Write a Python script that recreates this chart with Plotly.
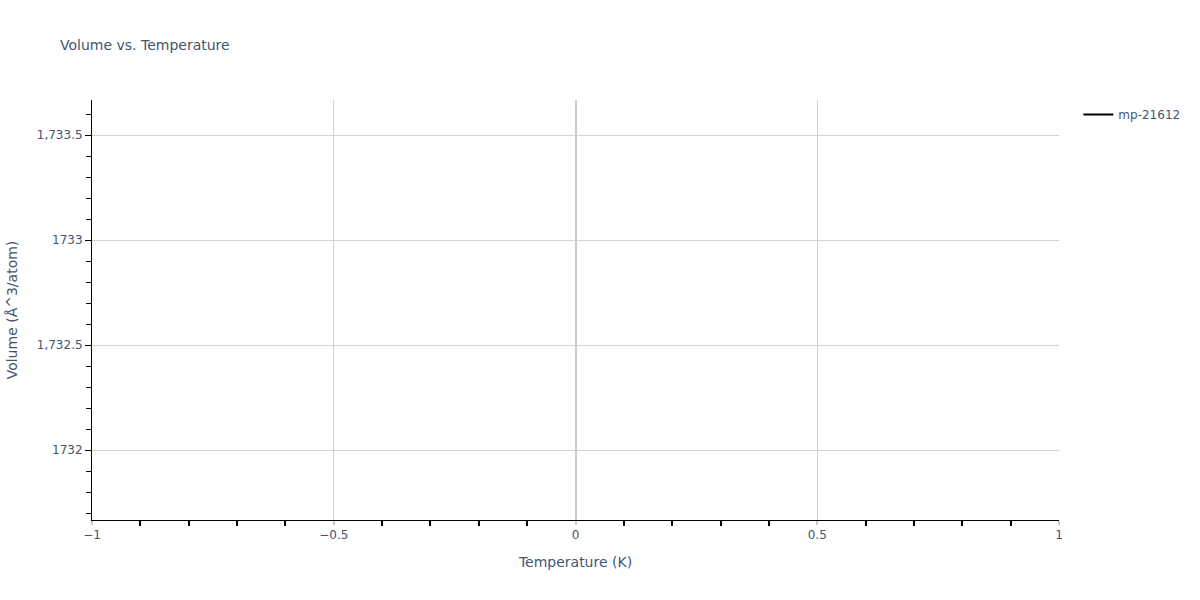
import plotly.graph_objects as go

# single sample: temperature (K) and volume (Å^3/atom)
temperature = [0]
volume = [1732.667]
material = "mp-21612"

fig = go.Figure()
fig.add_trace(go.Scatter(x=temperature, y=volume, name=material, mode='lines',
                         line=dict(color='black', width=2), showlegend=True))

fig.update_layout(
    title=dict(text="Volume vs. Temperature", font=dict(size=14), y=0.925, yanchor='middle'),
    font=dict(family="Verdana, DejaVu Sans, sans-serif", color='#44546f'),
    width=1200, height=600,
    margin=dict(r=141),
    plot_bgcolor='white', paper_bgcolor='white',
    showlegend=True,
    xaxis=dict(title="Temperature (K)", showline=True, linecolor='black', linewidth=1,
               showgrid=True, gridcolor='lightgrey', zeroline=True, zerolinecolor='#cccccc',
               zerolinewidth=2, ticks='outside', tickcolor='#cccccc', tickwidth=2, ticklen=4,
               minor=dict(ticks='outside', ticklen=5, tickcolor='black', showgrid=False)),
    yaxis=dict(title="Volume (Å^3/atom)", showline=True, linecolor='black', linewidth=1,
               showgrid=True, gridcolor='lightgrey', zeroline=False,
               ticks='outside', tickcolor='black', ticklen=6,
               minor=dict(ticks='outside', ticklen=5, tickcolor='black', showgrid=False)),
)

# drop the page margin so the figure sits at the window corner
fig.write_html("out.html", config={'displayModeBar': False},
               post_script="document.body.style.margin='0';")
